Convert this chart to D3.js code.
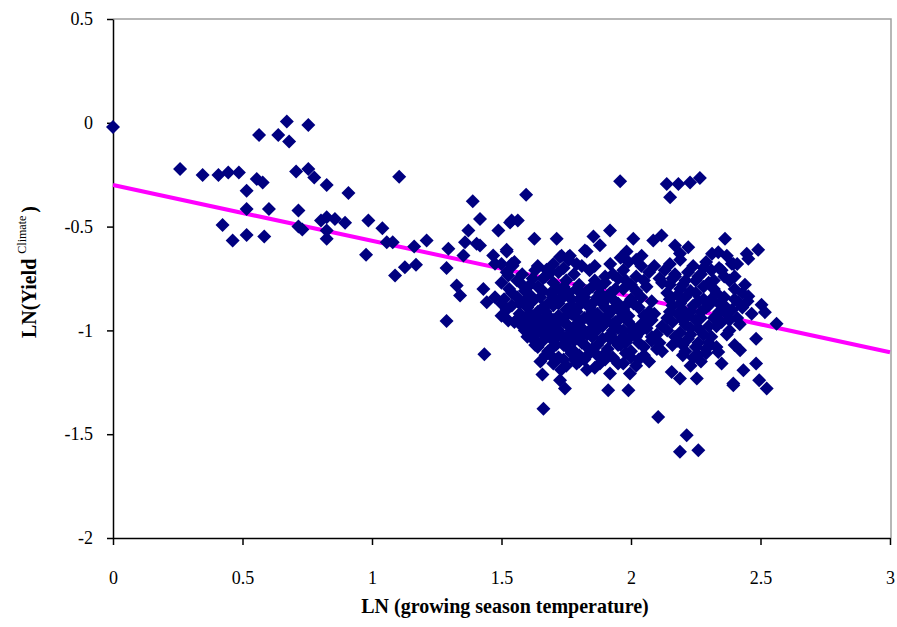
<!DOCTYPE html>
<html lang="en">
<head>
    <meta charset="UTF-8">
    <title>LN Yield vs LN temperature</title>
    <script src="https://cdn.jsdelivr.net/npm/d3@7"></script>
    <style>
        body { margin: 0; background: #fff; }
        text { font-family: "Liberation Serif", "Times New Roman", serif; }
    </style>
</head>
<body>
    <script>
        // ticks
        const xTicks = [0, 0.5, 1, 1.5, 2, 2.5, 3];
        const yTicks = [-2, -1.5, -1, -0.5, 0, 0.5];

        // fitted trend line (end points)
        const trendX = [0, 3];
        const trendY = [-0.30, -1.105];

        // observations, [ln temp, ln yield], grouped by temperature band
        const coolYears = [
            [0.00, -0.02], [0.259, -0.223], [0.346, -0.252], [0.407, -0.252], [0.445, -0.239],
            [0.486, -0.239], [0.555, -0.271], [0.578, -0.287], [0.516, -0.327], [0.564, -0.059],
            [0.638, -0.059], [0.671, 0.006], [0.680, -0.090], [0.754, -0.011], [0.707, -0.234],
            [0.754, -0.223], [0.777, -0.263], [0.825, -0.300], [0.909, -0.338], [0.516, -0.415],
            [0.602, -0.415], [0.716, -0.423], [0.423, -0.492], [0.462, -0.567], [0.516, -0.540],
            [0.584, -0.548], [0.716, -0.500], [0.731, -0.514], [0.803, -0.471], [0.825, -0.455],
            [0.857, -0.463], [0.896, -0.482], [0.825, -0.519], [0.825, -0.559], [0.986, -0.471],
            [1.040, -0.508], [1.057, -0.575], [1.080, -0.575], [0.977, -0.636], [1.105, -0.260],
            [1.089, -0.736], [1.127, -0.696], [1.170, -0.684], [1.163, -0.596], [1.211, -0.567]
        ];

        const midYears = [
            [1.295, -0.607], [1.288, -0.700], [1.327, -0.784], [1.340, -0.832], [1.288, -0.955],
            [1.389, -0.378], [1.417, -0.463], [1.372, -0.519], [1.359, -0.575], [1.404, -0.583],
            [1.353, -0.639], [1.417, -0.591], [1.468, -0.639], [1.475, -0.679], [1.488, -0.519],
            [1.520, -0.612], [1.539, -0.471], [1.563, -0.471], [1.595, -0.346], [1.543, -0.688],
            [1.526, -0.736], [1.430, -0.800], [1.443, -0.864], [1.475, -0.840], [1.501, -0.872],
            [1.526, -0.952], [1.434, -1.115], [1.627, -0.559], [1.713, -0.559], [1.726, -0.647],
            [1.758, -0.647], [1.674, -0.708], [1.658, -1.212], [1.726, -1.240], [1.745, -1.280],
            [1.662, -1.377], [1.533, -0.480], [1.520, -0.620], [1.539, -0.680]
        ];

        const warmYears = [
            [1.958, -0.282], [1.919, -0.519], [2.009, -0.559], [1.855, -0.548], [1.822, -0.615],
            [1.912, -1.288], [1.990, -1.288], [1.996, -1.208], [1.919, -1.208], [1.790, -1.160],
            [2.138, -0.295], [2.183, -0.295], [2.228, -0.287], [2.266, -0.266], [2.151, -0.359],
            [2.118, -0.543], [2.086, -0.567], [2.170, -0.591], [2.221, -0.599], [2.363, -0.559],
            [2.337, -0.623], [2.447, -0.631], [2.105, -1.417], [2.215, -1.505], [2.189, -1.585],
            [2.260, -1.577], [2.157, -1.200], [2.189, -1.232], [2.254, -1.232], [2.395, -1.264],
            [2.313, -0.631], [2.491, -0.612], [2.453, -0.655], [2.389, -0.679], [2.453, -0.835],
            [2.414, -0.864], [2.504, -0.877], [2.466, -0.920], [2.517, -0.912], [2.562, -0.968],
            [2.483, -1.040], [2.421, -1.096], [2.483, -1.160], [2.434, -1.192], [2.395, -1.256],
            [2.495, -1.240], [2.524, -1.280], [2.350, -1.160], [2.337, -1.104], [1.732, -0.640],
            [1.764, -0.640], [1.829, -0.620], [1.880, -0.590], [1.983, -0.620], [2.041, -0.640],
            [2.189, -0.630], [2.370, -0.640], [2.395, -0.680]
        ];

        // the dense cloud, read row by row
        const cloudUpper = [
            [1.50, -0.68], [1.55, -0.67], [1.64, -0.69], [1.70, -0.68], [1.76, -0.66], [1.81, -0.69],
            [1.99, -0.67], [2.04, -0.69], [2.15, -0.68], [2.19, -0.66], [2.24, -0.69], [2.29, -0.67],
            [2.34, -0.70], [2.41, -0.68],
            [1.52, -0.72], [1.58, -0.73], [1.63, -0.71], [1.67, -0.74], [1.72, -0.72], [1.78, -0.73],
            [1.84, -0.71], [1.93, -0.73], [1.97, -0.71], [2.02, -0.74], [2.07, -0.72], [2.13, -0.71],
            [2.17, -0.74], [2.22, -0.72], [2.27, -0.73], [2.31, -0.71], [2.36, -0.74],
            [1.50, -0.77], [1.56, -0.76], [1.61, -0.78], [1.66, -0.75], [1.70, -0.77], [1.75, -0.76],
            [1.80, -0.78], [1.86, -0.76], [1.90, -0.77], [1.95, -0.75], [2.00, -0.78], [2.05, -0.76],
            [2.12, -0.77], [2.16, -0.75], [2.20, -0.78], [2.25, -0.76], [2.30, -0.77], [2.38, -0.76],
            [2.44, -0.78],
            [1.53, -0.80], [1.59, -0.81], [1.64, -0.79], [1.69, -0.82], [1.79, -0.80], [1.83, -0.81],
            [1.88, -0.79], [1.92, -0.82], [1.97, -0.80], [2.02, -0.81], [2.06, -0.79], [2.14, -0.82],
            [2.19, -0.80], [2.23, -0.81], [2.28, -0.79], [2.33, -0.82], [2.40, -0.80],
            [1.51, -0.85], [1.56, -0.84], [1.62, -0.86], [1.70, -0.84], [1.72, -0.87], [1.77, -0.85],
            [1.82, -0.84], [1.86, -0.86], [1.91, -0.84], [1.95, -0.87], [2.00, -0.85], [2.04, -0.84],
            [2.08, -0.86], [2.15, -0.85], [2.21, -0.84], [2.26, -0.86], [2.31, -0.85], [2.36, -0.84],
            [2.45, -0.86]
        ];

        const cloudLower = [
            [1.54, -0.88], [1.60, -0.89], [1.70, -0.88], [1.75, -0.90], [1.80, -0.88], [1.84, -0.89],
            [1.89, -0.87], [1.93, -0.90], [1.98, -0.88], [2.03, -0.89], [2.07, -0.91], [2.16, -0.88],
            [2.20, -0.90], [2.24, -0.88], [2.29, -0.89], [2.34, -0.87], [2.39, -0.90],
            [1.50, -0.93], [1.57, -0.92], [1.63, -0.94], [1.67, -0.91], [1.72, -0.93], [1.77, -0.92],
            [1.82, -0.94], [1.87, -0.92], [1.91, -0.93], [1.96, -0.91], [2.05, -0.93], [2.09, -0.92],
            [2.14, -0.94], [2.18, -0.92], [2.22, -0.93], [2.27, -0.91], [2.32, -0.94], [2.37, -0.92],
            [1.55, -0.96], [1.61, -0.97], [1.65, -0.95], [1.70, -0.98], [1.74, -0.96], [1.79, -0.97],
            [1.84, -0.95], [1.89, -0.98], [1.94, -0.96], [2.04, -0.97], [2.08, -0.95], [2.12, -0.98],
            [2.16, -0.96], [2.21, -0.97], [2.25, -0.95], [2.30, -0.98], [2.35, -0.96], [2.42, -0.97],
            [1.59, -1.00], [1.64, -1.01], [1.68, -0.99], [1.73, -1.02], [1.77, -1.00], [1.82, -1.01],
            [1.87, -0.99], [1.92, -1.02], [1.97, -1.00], [2.01, -1.01], [2.06, -0.99], [2.10, -1.02],
            [2.14, -1.00], [2.19, -1.01], [2.23, -0.99], [2.28, -1.02], [2.38, -1.00],
            [1.62, -1.04], [1.66, -1.05], [1.71, -1.03], [1.75, -1.06], [1.80, -1.04], [1.85, -1.03],
            [1.94, -1.05], [1.99, -1.04], [2.03, -1.06], [2.08, -1.03], [2.18, -1.05], [2.22, -1.04],
            [2.26, -1.06], [2.31, -1.03],
            [1.64, -1.08], [1.69, -1.09], [1.74, -1.07], [1.78, -1.10], [1.83, -1.08], [1.91, -1.09],
            [1.96, -1.07], [2.00, -1.10], [2.05, -1.08], [2.10, -1.09], [2.16, -1.07], [2.21, -1.10],
            [2.25, -1.08], [2.29, -1.09],
            [1.67, -1.12], [1.72, -1.13], [1.77, -1.11], [1.82, -1.14], [1.87, -1.12], [1.93, -1.13],
            [1.98, -1.11], [2.03, -1.14], [2.20, -1.12], [2.24, -1.13], [2.29, -1.11],
            [1.70, -1.16], [1.75, -1.17], [1.80, -1.15], [1.86, -1.18], [1.97, -1.16], [2.02, -1.17],
            [2.07, -1.15], [2.23, -1.17], [2.27, -1.15]
        ];

        // extra points filling the densest core
        const cloudCore = [
            [1.66, -0.81], [1.74, -0.83], [1.81, -0.82], [1.85, -0.91], [1.79, -0.91], [1.73, -0.95],
            [1.68, -0.93], [1.76, -1.02], [1.84, -1.00], [1.90, -0.95], [1.95, -0.99], [1.99, -0.93],
            [2.01, -0.87], [1.93, -0.85], [1.88, -0.82], [1.71, -1.07], [1.81, -1.06], [1.90, -1.11],
            [1.95, -1.07], [2.02, -1.03], [2.06, -0.97], [2.11, -1.06], [1.59, -0.94], [1.57, -0.87],
            [1.61, -0.83], [1.65, -0.98], [1.69, -1.02], [1.63, -1.07], [2.18, -0.83], [2.25, -0.82],
            [2.30, -0.88], [2.27, -0.94], [2.20, -0.95], [2.34, -0.91], [2.33, -0.98], [2.23, -1.02],
            [2.17, -0.73], [2.28, -0.70], [2.32, -0.76], [1.90, -0.74], [1.98, -0.76], [1.74, -0.79],
            [1.78, -1.14], [1.88, -1.16], [2.00, -1.13], [2.26, -1.12], [2.41, -0.94], [2.43, -0.82],
            [2.37, -1.02], [2.40, -1.07]
        ];

        const cloudFill = [
            [1.52, -0.90], [1.58, -0.78], [1.62, -0.75], [1.69, -0.72], [1.74, -0.70], [1.79, -0.68],
            [1.86, -0.69], [1.92, -0.68], [1.96, -0.65], [2.02, -0.66], [2.09, -0.69], [2.11, -0.75],
            [1.72, -0.80], [1.77, -0.88], [1.85, -0.79], [1.90, -0.89], [1.97, -0.90], [1.99, -0.96],
            [1.93, -0.97], [1.86, -0.97], [1.80, -0.96], [1.75, -0.93], [1.70, -0.95], [1.66, -0.89],
            [1.64, -0.91], [1.58, -0.98], [1.62, -1.00], [1.67, -1.03], [1.72, -1.00], [1.78, -1.05],
            [1.83, -1.02], [1.87, -1.07], [1.92, -1.04], [1.97, -1.03], [2.04, -1.00], [2.08, -1.05],
            [2.12, -1.10], [1.69, -1.12], [1.74, -1.14], [1.84, -1.11], [1.90, -1.14], [1.95, -1.16],
            [2.05, -1.12], [1.73, -1.19], [1.83, -1.19], [1.65, -1.15], [2.15, -0.91], [2.19, -0.87],
            [2.23, -0.91], [2.28, -0.85], [2.32, -0.80], [2.36, -0.88], [2.40, -0.85], [2.38, -0.95],
            [2.30, -1.06], [2.26, -0.99], [2.20, -1.07], [2.17, -1.03], [2.15, -0.78], [2.21, -0.76],
            [2.26, -0.74], [2.35, -0.71], [2.40, -0.74], [2.43, -0.89], [2.33, -1.08]
        ];

        const cloudDense = [
            [1.65, -0.84], [1.68, -0.87], [1.73, -0.85], [1.76, -0.82], [1.80, -0.85], [1.83, -0.87],
            [1.87, -0.84], [1.94, -0.80], [1.96, -0.94], [1.92, -0.91], [1.88, -0.94], [1.84, -0.93],
            [1.79, -0.94], [1.76, -0.98], [1.71, -0.97], [1.67, -0.96], [1.63, -0.97], [1.61, -0.92],
            [1.66, -1.01], [1.70, -1.05], [1.74, -1.04], [1.79, -1.02], [1.81, -0.99], [1.86, -1.01],
            [1.89, -1.04], [1.93, -1.00], [1.98, -1.06], [2.01, -0.99], [1.76, -1.09], [1.85, -1.09],
            [1.80, -1.12], [1.68, -1.10], [1.60, -1.03], [1.56, -0.95], [1.54, -0.82], [1.59, -0.86]
        ];

        const allPoints = [].concat(coolYears, midYears, warmYears, cloudUpper, cloudLower,
            cloudCore, cloudFill, cloudDense);

        const width = 897, height = 627;
        const plotLeft = 113, plotRight = 890, plotTop = 19, plotBottom = 538;

        const svg = d3.select("body").append("svg")
            .attr("width", width)
            .attr("height", height);

        const x = d3.scaleLinear().domain([0, 3]).range([plotLeft, plotRight]);
        const y = d3.scaleLinear().domain([-2, 0.5]).range([plotBottom, plotTop]);

        // plot area frame (grey top/right)
        svg.append("path")
            .attr("d", `M${plotLeft},${plotTop}H${plotRight + 1}V${plotBottom}`)
            .attr("fill", "none")
            .attr("stroke", "#a0a0a0")
            .attr("stroke-width", 1.5);

        // plain hyphen for negatives, like the original
        const fmt = d => String(d);

        const xAxis = svg.append("g")
            .attr("transform", `translate(0,${plotBottom})`)
            .call(d3.axisBottom(x).tickValues(xTicks).tickFormat(fmt).tickSize(7).tickSizeOuter(0).tickPadding(26));

        const yAxis = svg.append("g")
            .attr("transform", `translate(${plotLeft},0)`)
            .call(d3.axisLeft(y).tickValues(yTicks).tickFormat(fmt).tickSize(6).tickSizeOuter(0).tickPadding(14));

        [xAxis, yAxis].forEach(g => {
            g.select(".domain").attr("stroke", "#000").attr("stroke-width", 1.5);
            g.selectAll(".tick line").attr("stroke", "#000").attr("stroke-width", 1.5);
            g.selectAll("text")
                .attr("font-family", "Liberation Serif, Times New Roman, serif")
                .attr("font-size", 18)
                .attr("fill", "#000");
        });

        // trend line under the markers
        svg.append("line")
            .attr("x1", x(trendX[0])).attr("y1", y(trendY[0]))
            .attr("x2", x(trendX[1])).attr("y2", y(trendY[1]))
            .attr("stroke", "#ff00ff")
            .attr("stroke-width", 4);

        const r = 7;
        svg.append("g")
            .selectAll("path")
            .data(allPoints)
            .enter().append("path")
            .attr("d", `M0,${-r}L${r},0L0,${r}L${-r},0Z`)
            .attr("transform", d => `translate(${x(d[0])},${y(d[1])})`)
            .attr("fill", "#000080");

        // axis titles
        svg.append("text")
            .attr("x", 505)
            .attr("y", 613)
            .attr("text-anchor", "middle")
            .attr("font-size", 20)
            .attr("font-weight", "bold")
            .text("LN (growing season temperature)");

        const yTitle = svg.append("text")
            .attr("transform", "translate(36,272) rotate(-90)")
            .attr("text-anchor", "middle")
            .attr("font-size", 20)
            .attr("font-weight", "bold");
        yTitle.append("tspan").text("LN(Yield  ");
        yTitle.append("tspan")
            .attr("font-size", 12)
            .attr("font-weight", "normal")
            .attr("dy", -10)
            .text("Climate ");
        yTitle.append("tspan")
            .attr("dy", 10)
            .text(")");
    </script>
</body>
</html>
